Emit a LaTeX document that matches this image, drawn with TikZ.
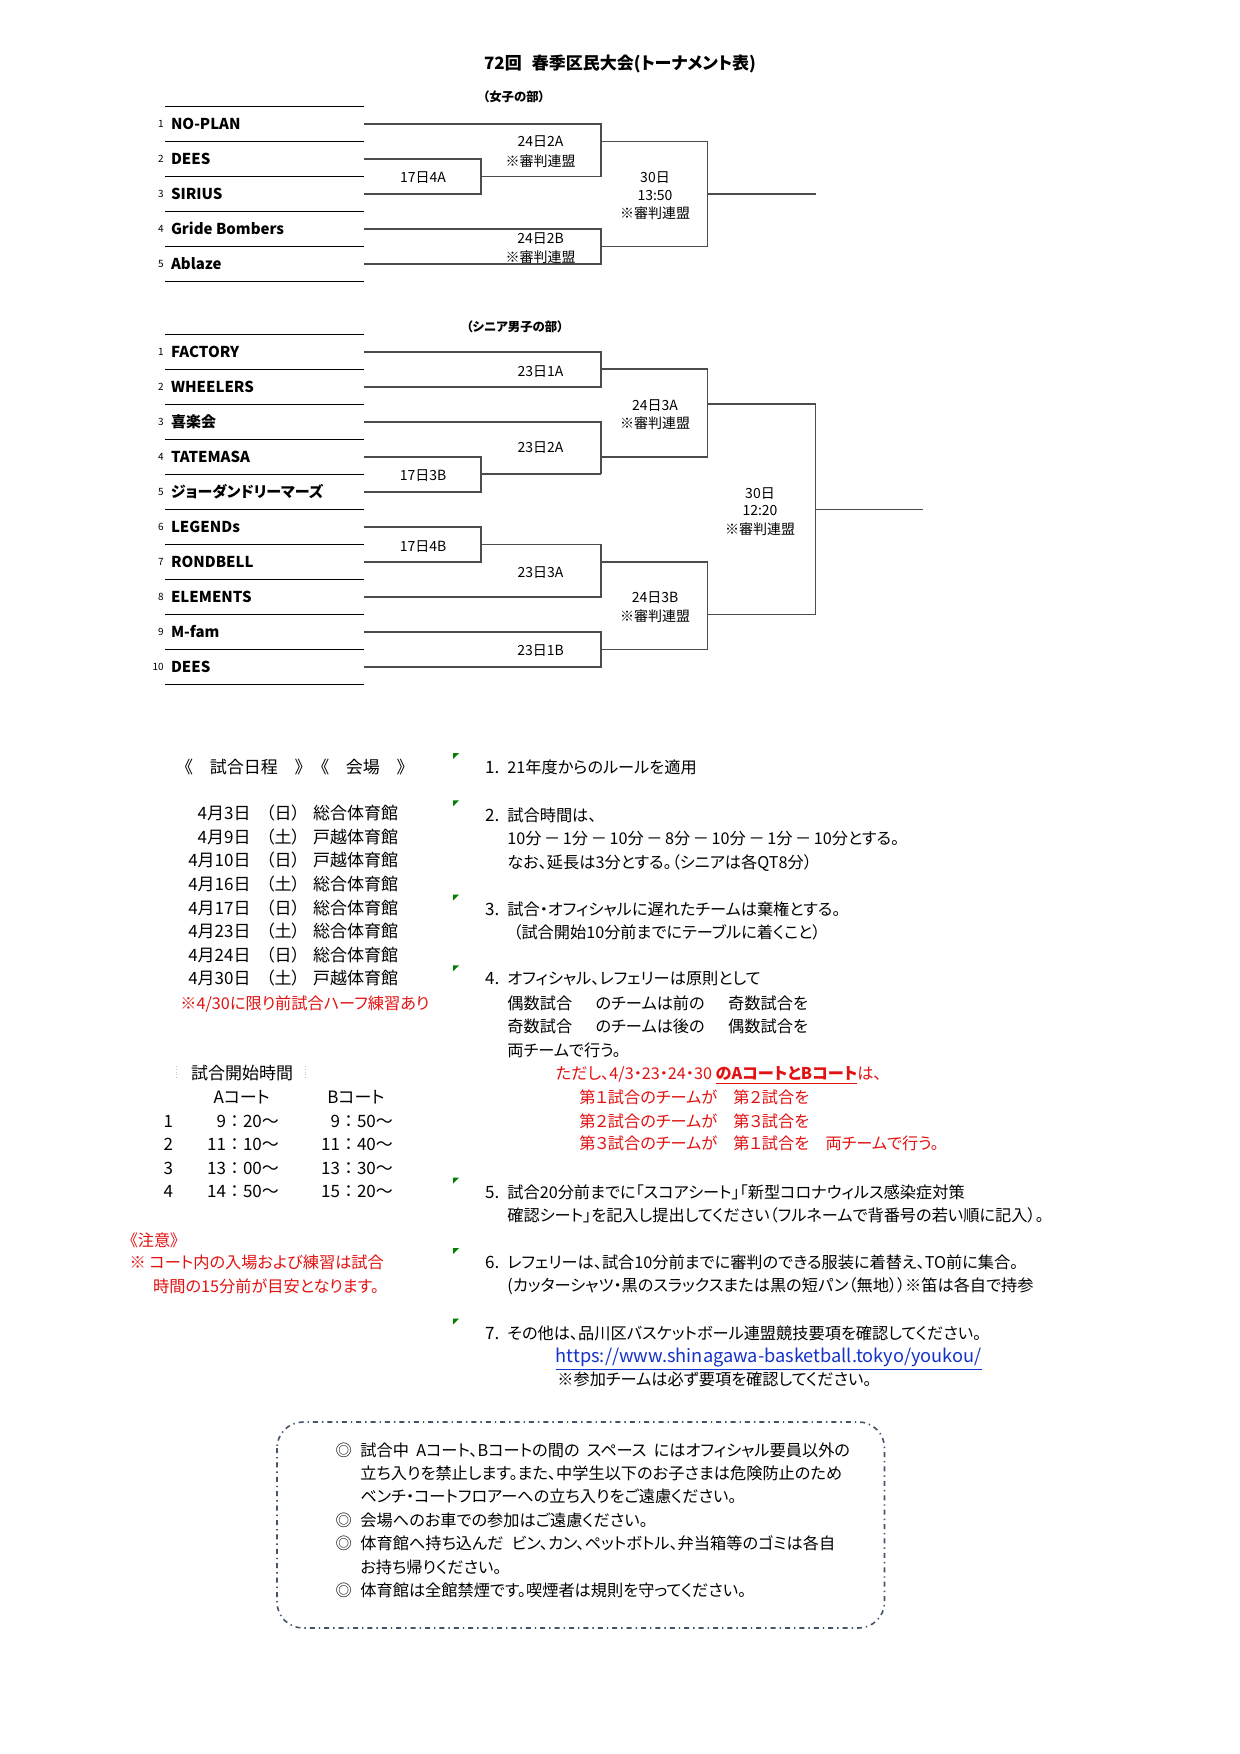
\documentclass[tikz,border=0pt]{standalone}
\usepackage{fontspec}
\setmainfont{Noto Sans CJK JP}[RawFeature=+palt]
\newfontfamily\jpfixed{Noto Sans CJK JP}
\usetikzlibrary{positioning}
\definecolor{NoteRed}{RGB}{226,18,18}
\definecolor{LinkBlue}{RGB}{20,50,200}
\definecolor{MarkGreen}{RGB}{0,128,0}
\definecolor{BoxSlate}{RGB}{68,84,106}

\newcommand{\ftitle}{\fontsize{8.5pt}{10pt}\selectfont\bfseries}
\newcommand{\fsect}{\fontsize{6.2pt}{7pt}\selectfont\bfseries}
\newcommand{\fteam}{\fontsize{7.5pt}{9pt}\selectfont\bfseries}
\newcommand{\fseed}{\fontsize{5pt}{6pt}\selectfont}
\newcommand{\fmatch}{\fontsize{7pt}{8pt}\selectfont}
\newcommand{\fbody}{\fontsize{8.5pt}{10pt}\selectfont}
\newcommand{\frule}{\fontsize{8.1pt}{10pt}\selectfont}
\newcommand{\furl}{\fontsize{9.1pt}{10pt}\selectfont}
\newcommand{\fnote}{\fontsize{8.1pt}{10pt}\selectfont}
\newcommand{\wminus}{\hspace{1.3pt}{\jpfixed －}\hspace{1.3pt}}

% bracket columns (px)
\newcommand{\bxA}{363.5}
\newcommand{\bxB}{480.8}
\newcommand{\bxC}{600.7}
\newcommand{\bxD}{707.3}
\newcommand{\bxE}{815.5}

\tikzset{
  head/.style={font=\ftitle, inner sep=0pt, text height=7.5pt, text depth=1pt},
  sect/.style={font=\fsect, inner sep=0pt, text height=5.5pt, text depth=0.7pt},
  team/.style={font=\fteam, anchor=west, inner sep=0pt, text height=6.6pt, text depth=0.9pt},
  seed/.style={font=\fseed, anchor=east, inner sep=0pt, text height=3.7pt, text depth=0pt},
  match/.style={font=\fmatch, inner sep=0pt, text height=6.2pt, text depth=0.8pt},
  body/.style={font=\fbody, anchor=west, inner sep=0pt, text height=7.5pt, text depth=1pt},
  rule/.style={body, font=\frule},
  redtxt/.style={rule, text=NoteRed},
  boxtxt/.style={body, font=\fnote},
  rowline/.style={black, line width=0.6pt},
  bracket/.style={black!70, line width=0.8pt},
  notebox/.style={draw=BoxSlate, line width=0.8pt, rounded corners=13pt,
    dash pattern=on 2.5pt off 2pt on 0.7pt off 2pt},
}

\begin{document}
\begin{tikzpicture}[x=0.5pt, y=-0.5pt]
  \useasboundingbox[fill=white] (0,0) rectangle (1240,1754);

  % Title
  \node[head] (title) at (620,63) {72回\hspace{0.6em}春季区民大会(トーナメント表)};

  % ---------- Girls ----------
  \node[sect] (girlshead) at (514,97) {（女子の部）};
  \foreach \k in {0,...,5}
    \draw[rowline] (165,{106.7+35*\k}) -- (\bxA,{106.7+35*\k});
  \foreach \name [count=\i] in {NO-PLAN, DEES, SIRIUS, Gride Bombers, Ablaze} {
    \node[team] (g\i) at (170.6,{89.2+35*\i}) {\name};
    \node[seed, left=3.3pt of g\i] (gn\i) {\i};
  }
  \draw[bracket] (\bxA,124.2) -| (\bxC,176.7);
  \draw[bracket] (\bxA,159.2) -| (\bxB,194.2) -- (\bxA,194.2);
  \draw[bracket] (\bxB,176.7) -- (\bxC,176.7);
  \draw[bracket] (\bxA,229.2) -| (\bxC,264.2) -- (\bxA,264.2);
  \draw[bracket] (\bxC,141.7) -| (\bxD,246.7) -- (\bxC,246.7);
  \draw[bracket] (\bxD,194.2) -- (\bxE,194.2);

  \node[match] (g24a) at (540.5,140.7) {24日2A};
  \node[match] (g24ar) at (540.5,160.7) {※審判連盟};
  \node[match] (g17a) at (423,177.3) {17日4A};
  \node[match] (g30) at (655,176.7) {30日};
  \node[match] (g30t) at (655,195) {13:50};
  \node[match] (g30r) at (655,213) {※審判連盟};
  \node[match] (g24b) at (540.5,238.3) {24日2B};
  \node[match] (g24br) at (540.5,256.7) {※審判連盟};

  % ---------- Senior men ----------
  \node[sect] (seniorhead) at (515,326.7) {（シニア男子の部）};
  \foreach \k in {0,...,10}
    \draw[rowline] (165,{334.3+35*\k}) -- (\bxA,{334.3+35*\k});
  \foreach \name [count=\i] in {FACTORY, WHEELERS, 喜楽会, TATEMASA, ジョーダンドリーマーズ,
      LEGENDs, RONDBELL, ELEMENTS, M-fam, DEES} {
    \node[team] (s\i) at (170.6,{316.8+35*\i}) {\name};
    \node[seed, left=3.3pt of s\i] (sn\i) {\i};
  }
  % upper half
  \draw[bracket] (\bxA,351.8) -| (\bxC,386.8) -- (\bxA,386.8);
  \draw[bracket] (\bxC,369.3) -- (\bxD,369.3);
  \draw[bracket] (\bxA,456.8) -| (\bxB,491.8) -- (\bxA,491.8);
  \draw[bracket] (\bxB,474.3) -- (\bxC,474.3);
  \draw[bracket] (\bxA,421.8) -| (\bxC,474.3);
  \draw[bracket] (\bxC,369.3) -| (\bxD,456.8) -- (\bxC,456.8);
  \draw[bracket] (\bxD,404.3) -- (\bxE,404.3);
  % lower half
  \draw[bracket] (\bxA,526.8) -| (\bxB,561.8) -- (\bxA,561.8);
  \draw[bracket] (\bxB,544.3) -| (\bxC,596.8) -- (\bxA,596.8);
  \draw[bracket] (\bxA,631.8) -| (\bxC,666.8) -- (\bxA,666.8);
  \draw[bracket] (\bxC,561.8) -| (\bxD,649.3) -- (\bxC,649.3);
  \draw[bracket] (\bxD,614.3) -- (\bxE,614.3);
  % final
  \draw[bracket] (\bxE,404.3) -- (\bxE,614.3);
  \draw[bracket] (\bxE,509.3) -- (923,509.3);

  \node[match] (s23a) at (540.5,370.7) {23日1A};
  \node[match] (s24a) at (655,405) {24日3A};
  \node[match] (s24ar) at (655,423.3) {※審判連盟};
  \node[match] (s23b) at (540.5,446.7) {23日2A};
  \node[match] (s17b) at (423,475) {17日3B};
  \node[match] (s30) at (760,493.3) {30日};
  \node[match] (s30t) at (760,510) {12:20};
  \node[match] (s30r) at (760,529.3) {※審判連盟};
  \node[match] (s17c) at (423,545.7) {17日4B};
  \node[match] (s23c) at (540.5,571.7) {23日3A};
  \node[match] (s24b) at (655,596.7) {24日3B};
  \node[match] (s24br) at (655,616) {※審判連盟};
  \node[match] (s23d) at (540.5,650) {23日1B};

  % ---------- Schedule ----------
  \node[body] (schedhead) at (184,766.7) {《　試合日程　》　《　会場　》};
  \foreach \d/\w/\v [count=\i] in {4月3日/日/総合体育館, 4月9日/土/戸越体育館,
      4月10日/日/戸越体育館, 4月16日/土/総合体育館, 4月17日/日/総合体育館,
      4月23日/土/総合体育館, 4月24日/日/総合体育館, 4月30日/土/戸越体育館} {
    \node[body, anchor=east] (date\i) at (251,{789.7+23.57*\i}) {\d};
    \node[body] (day\i) at (265.7,{789.7+23.57*\i}) {（\w）};
    \node[body] (hall\i) at (312.7,{789.7+23.57*\i}) {\v};
  }
  \node[redtxt] (halfnote) at (180,1003.3) {※4/30に限り前試合ハーフ練習あり};

  % start times
  \draw[gray!45, densely dotted] (176.7,1066) -- (176.7,1080);
  \draw[gray!45, densely dotted] (305,1066) -- (305,1080);
  \node[body] (timehead) at (190.7,1073.3) {試合開始時間};
  \node[body, anchor=center] (courtA) at (241.7,1097.3) {Aコート};
  \node[body, anchor=center] (courtB) at (356,1097.3) {Bコート};
  \foreach \a/\b [count=\i] in {9：20～/9：50～, 11：10～/11：40～,
      13：00～/13：30～, 14：50～/15：20～} {
    \node[body, anchor=center] (slot\i) at (168.3,{1097.7+23.33*\i}) {\i};
    \node[body, anchor=east, font=\fbody\jpfixed] (timeA\i) at (279.3,{1097.7+23.33*\i}) {\a};
    \node[body, anchor=east, font=\fbody\jpfixed] (timeB\i) at (393.3,{1097.7+23.33*\i}) {\b};
  }

  % caution
  \node[redtxt] (caution) at (129.3,1240) {《注意》};
  \node[redtxt] (caution1) at (129.3,1261.7) {※ コート内の入場および練習は試合};
  \node[redtxt] (caution2) at (152.7,1286) {時間の15分前が目安となります。};

  % ---------- Rules ----------
  \foreach \c in {756,803.3,897.7,968.3,1180.7,1251,1321.7}
    \fill[MarkGreen] (453,{\c-3}) -- ++(6,0) -- ++(-6,6) -- cycle;

  \foreach \n/\y in {1/767.3, 2/815, 3/909.3, 4/978.3, 5/1191.7, 6/1261.7, 7/1332.7}
    \node[body] (num\n) at (484.7,\y) {\n.};

  \node[rule] (r1) at (507,767.3) {21年度からのルールを適用};
  \node[rule] (r2a) at (507,815) {試合時間は、};
  \node[rule] (r2b) at (507,838.3) {10分\wminus 1分\wminus 10分\wminus 8分\wminus 10分\wminus 1分\wminus 10分とする。};
  \node[rule] (r2c) at (507,861.7) {なお、延長は3分とする。（シニアは各QT8分）};
  \node[rule] (r3a) at (507,909.3) {試合・オフィシャルに遅れたチームは棄権とする。};
  \node[rule] (r3b) at (513,931.7) {（試合開始10分前までにテーブルに着くこと）};
  \node[rule] (r4a) at (507,978.3) {オフィシャル、レフェリーは原則として};
  \node[rule] (r4b) at (507,1003.3) {偶数試合\hspace{1.45em}のチームは前の\hspace{1.45em}奇数試合を};
  \node[rule] (r4c) at (507,1026) {奇数試合\hspace{1.45em}のチームは後の\hspace{1.45em}偶数試合を};
  \node[rule] (r4d) at (507,1050) {両チームで行う。};
  \node[redtxt] (r4e) at (555.4,1073.3) {ただし、4/3・23・24・30 \underline{\textbf{のAコートとBコート}}は、};
  \node[redtxt] (r4f) at (579,1096.7) {第１試合のチームが　第２試合を};
  \node[redtxt] (r4g) at (579,1120.7) {第２試合のチームが　第３試合を};
  \node[redtxt] (r4h) at (579,1143.3) {第３試合のチームが　第１試合を　両チームで行う。};
  \node[rule] (r5a) at (507,1191.7) {試合20分前までに「スコアシート」「新型コロナウィルス感染症対策};
  \node[rule] (r5b) at (507,1215) {確認シート」を記入し提出してください（フルネームで背番号の若い順に記入）。};
  \node[rule] (r6a) at (507,1261.7) {レフェリーは、試合10分前までに審判のできる服装に着替え、TO前に集合。};
  \node[rule] (r6b) at (507,1285) {(カッターシャツ・黒のスラックスまたは黒の短パン（無地））※笛は各自で持参};
  \node[rule] (r7a) at (507,1332.7) {その他は、品川区バスケットボール連盟競技要項を確認してください。};
  \node[rule, font=\furl, text=LinkBlue] (url) at (555.4,1356) {\underline{https://www.shinagawa-basketball.tokyo/youkou/}};
  \node[rule] (r7c) at (557,1379.3) {※参加チームは必ず要項を確認してください。};

  % ---------- Notice box ----------
  \draw[notebox] (277,1422) rectangle (884.5,1628);
  \foreach \t [count=\i] in {
      試合中\hspace{0.45em}Aコート、Bコートの間の\hspace{0.45em}スペース\hspace{0.45em}にはオフィシャル要員以外の,
      立ち入りを禁止します。また、中学生以下のお子さまは危険防止のため,
      ベンチ・コートフロアーへの立ち入りをご遠慮ください。,
      会場へのお車での参加はご遠慮ください。,
      体育館へ持ち込んだ\hspace{0.5em}ビン、カン、ペットボトル、弁当箱等のゴミは各自,
      お持ち帰りください。,
      体育館は全館禁煙です。喫煙者は規則を守ってください。}
    \node[boxtxt] (note\i) at (360,{1426.1+23.42*\i}) {\t};
  \foreach \i in {1,4,5,7}
    \node[boxtxt, anchor=center] (mark\i) at (343.7,{1426.1+23.42*\i}) {◎};
\end{tikzpicture}
\end{document}
